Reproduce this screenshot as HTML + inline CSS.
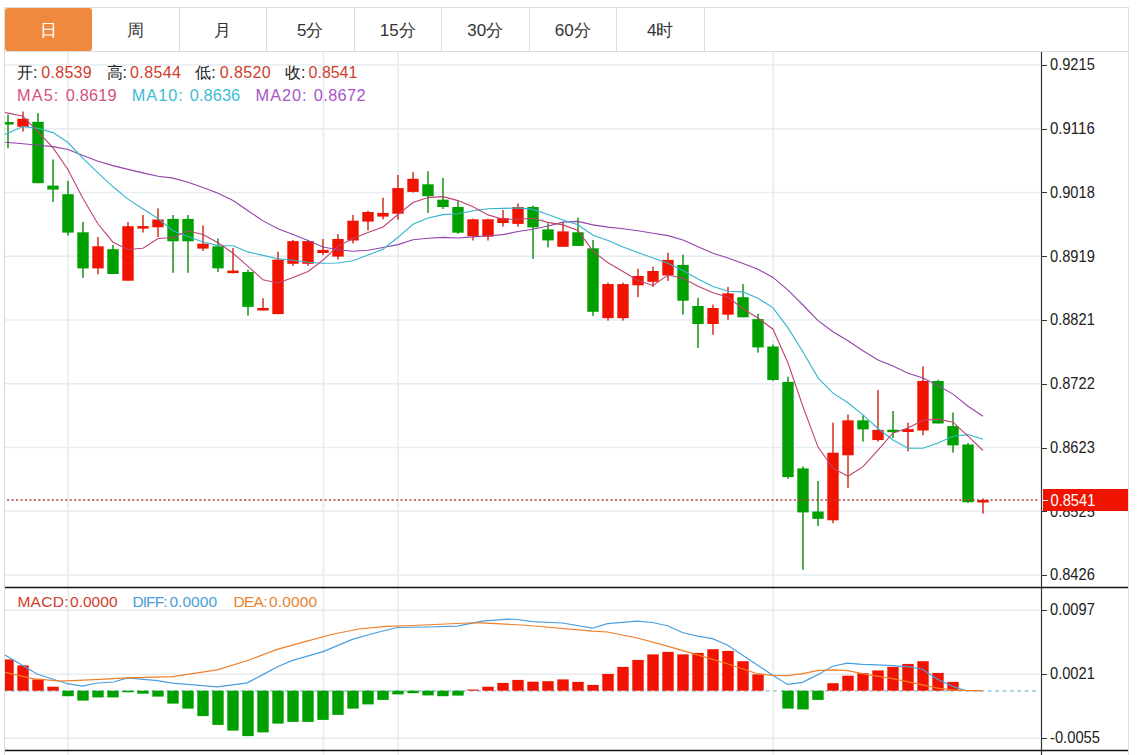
<!DOCTYPE html>
<html><head><meta charset="utf-8">
<style>
html,body{margin:0;padding:0;background:#fff;}
body{width:1141px;height:755px;position:relative;overflow:hidden;font-family:"Liberation Sans",sans-serif;}
.bar{position:absolute;left:4px;top:7px;width:1124px;height:43px;border:1px solid #dcdcdc;border-left:none;}
.tab{position:absolute;top:7px;width:87.5px;height:44px;line-height:48px;text-align:center;font-size:17px;color:#333;border-right:1px solid #dcdcdc;box-sizing:border-box;}
.tab.act{background:#f0893d;color:#fff;border-radius:3px;border-right:none;top:8px;height:43px;left:5px!important;width:87px;line-height:46px;}
svg{position:absolute;left:0;top:0;font-family:"Liberation Sans",sans-serif;}
.ax{font-size:15.6px;font-family:"Liberation Sans",sans-serif;}
.hd{position:absolute;font-size:16px;white-space:pre;line-height:16px;}
</style></head><body>
<div class="bar"></div>
<div style="position:absolute;left:4px;top:7px;width:1px;height:44px;background:#dcdcdc"></div>
<div class="tab act" style="left:4.5px">日</div><div class="tab" style="left:92.0px">周</div><div class="tab" style="left:179.5px">月</div><div class="tab" style="left:267.0px">5分</div><div class="tab" style="left:354.5px">15分</div><div class="tab" style="left:442.0px">30分</div><div class="tab" style="left:529.5px">60分</div><div class="tab" style="left:617.0px">4时</div>
<svg width="1141" height="755" viewBox="0 0 1141 755">
<defs><clipPath id="cl"><rect x="5" y="52" width="1036" height="535"/></clipPath>
<clipPath id="cl2"><rect x="5" y="588" width="1036" height="162"/></clipPath></defs>
<line x1="5" y1="65.00" x2="1040" y2="65.00" stroke="#e6ecf0" stroke-width="1.6"/>
<line x1="5" y1="128.75" x2="1040" y2="128.75" stroke="#e6ecf0" stroke-width="1.6"/>
<line x1="5" y1="192.50" x2="1040" y2="192.50" stroke="#e6ecf0" stroke-width="1.6"/>
<line x1="5" y1="256.25" x2="1040" y2="256.25" stroke="#e6ecf0" stroke-width="1.6"/>
<line x1="5" y1="320.00" x2="1040" y2="320.00" stroke="#e6ecf0" stroke-width="1.6"/>
<line x1="5" y1="383.75" x2="1040" y2="383.75" stroke="#e6ecf0" stroke-width="1.6"/>
<line x1="5" y1="447.50" x2="1040" y2="447.50" stroke="#e6ecf0" stroke-width="1.6"/>
<line x1="5" y1="511.25" x2="1040" y2="511.25" stroke="#e6ecf0" stroke-width="1.6"/>
<line x1="5" y1="575.00" x2="1040" y2="575.00" stroke="#e6ecf0" stroke-width="1.6"/>
<line x1="5" y1="610.3" x2="1040" y2="610.3" stroke="#e6ecf0" stroke-width="1.6"/>
<line x1="5" y1="674.3" x2="1040" y2="674.3" stroke="#e6ecf0" stroke-width="1.6"/>
<line x1="5" y1="738.3" x2="1040" y2="738.3" stroke="#e6ecf0" stroke-width="1.6"/>
<line x1="68.2" y1="52" x2="68.2" y2="755" stroke="#e6ecf0" stroke-width="1.6"/>
<line x1="323.4" y1="52" x2="323.4" y2="755" stroke="#e6ecf0" stroke-width="1.6"/>
<line x1="398.2" y1="52" x2="398.2" y2="755" stroke="#e6ecf0" stroke-width="1.6"/>
<line x1="773.3" y1="52" x2="773.3" y2="755" stroke="#e6ecf0" stroke-width="1.6"/>
<g clip-path="url(#cl)">
<rect x="7.30" y="114.6" width="1.4" height="33.7" fill="#078a07"/>
<rect x="2.30" y="122.0" width="11.4" height="2.5" fill="#00a000"/>
<rect x="22.30" y="111.5" width="1.4" height="20.0" fill="#c8240f"/>
<rect x="17.30" y="118.8" width="11.4" height="8.0" fill="#f01400"/>
<rect x="37.30" y="113.1" width="1.4" height="70.1" fill="#078a07"/>
<rect x="32.30" y="121.8" width="11.4" height="61.4" fill="#00a000"/>
<rect x="52.30" y="159.5" width="1.4" height="42.5" fill="#078a07"/>
<rect x="47.30" y="185.6" width="11.4" height="4.0" fill="#00a000"/>
<rect x="67.30" y="181.0" width="1.4" height="54.5" fill="#078a07"/>
<rect x="62.30" y="194.2" width="11.4" height="38.4" fill="#00a000"/>
<rect x="82.30" y="221.8" width="1.4" height="56.0" fill="#078a07"/>
<rect x="77.30" y="232.3" width="11.4" height="36.1" fill="#00a000"/>
<rect x="97.30" y="237.0" width="1.4" height="37.3" fill="#c8240f"/>
<rect x="92.30" y="246.3" width="11.4" height="22.1" fill="#f01400"/>
<rect x="112.30" y="245.0" width="1.4" height="29.0" fill="#078a07"/>
<rect x="107.30" y="249.2" width="11.4" height="24.8" fill="#00a000"/>
<rect x="127.30" y="221.8" width="1.4" height="58.9" fill="#c8240f"/>
<rect x="122.30" y="226.2" width="11.4" height="54.5" fill="#f01400"/>
<rect x="142.30" y="215.0" width="1.4" height="17.6" fill="#c8240f"/>
<rect x="137.30" y="226.1" width="11.4" height="2.5" fill="#f01400"/>
<rect x="157.30" y="208.4" width="1.4" height="28.6" fill="#c8240f"/>
<rect x="152.30" y="219.5" width="11.4" height="7.8" fill="#f01400"/>
<rect x="172.30" y="215.0" width="1.4" height="57.8" fill="#078a07"/>
<rect x="167.30" y="218.9" width="11.4" height="22.4" fill="#00a000"/>
<rect x="187.30" y="215.0" width="1.4" height="57.8" fill="#078a07"/>
<rect x="182.30" y="218.9" width="11.4" height="22.4" fill="#00a000"/>
<rect x="202.30" y="225.3" width="1.4" height="25.7" fill="#c8240f"/>
<rect x="197.30" y="243.7" width="11.4" height="4.9" fill="#f01400"/>
<rect x="217.30" y="238.4" width="1.4" height="33.6" fill="#078a07"/>
<rect x="212.30" y="246.3" width="11.4" height="22.1" fill="#00a000"/>
<rect x="232.30" y="248.0" width="1.4" height="25.4" fill="#c8240f"/>
<rect x="227.30" y="270.6" width="11.4" height="2.5" fill="#f01400"/>
<rect x="247.30" y="269.6" width="1.4" height="46.0" fill="#078a07"/>
<rect x="242.30" y="272.0" width="11.4" height="34.9" fill="#00a000"/>
<rect x="262.30" y="298.2" width="1.4" height="12.2" fill="#c8240f"/>
<rect x="257.30" y="308.0" width="11.4" height="2.5" fill="#f01400"/>
<rect x="277.30" y="251.6" width="1.4" height="62.5" fill="#c8240f"/>
<rect x="272.30" y="259.6" width="11.4" height="54.5" fill="#f01400"/>
<rect x="292.30" y="240.0" width="1.4" height="25.9" fill="#c8240f"/>
<rect x="287.30" y="241.1" width="11.4" height="22.7" fill="#f01400"/>
<rect x="307.30" y="240.0" width="1.4" height="25.9" fill="#c8240f"/>
<rect x="302.30" y="241.1" width="11.4" height="22.7" fill="#f01400"/>
<rect x="322.30" y="239.0" width="1.4" height="16.1" fill="#c8240f"/>
<rect x="317.30" y="249.9" width="11.4" height="3.1" fill="#f01400"/>
<rect x="337.30" y="234.1" width="1.4" height="25.4" fill="#c8240f"/>
<rect x="332.30" y="239.0" width="11.4" height="17.6" fill="#f01400"/>
<rect x="352.30" y="214.9" width="1.4" height="28.5" fill="#c8240f"/>
<rect x="347.30" y="220.7" width="11.4" height="19.8" fill="#f01400"/>
<rect x="367.30" y="210.8" width="1.4" height="19.5" fill="#c8240f"/>
<rect x="362.30" y="212.0" width="11.4" height="9.6" fill="#f01400"/>
<rect x="382.30" y="197.7" width="1.4" height="21.6" fill="#c8240f"/>
<rect x="377.30" y="212.9" width="11.4" height="3.7" fill="#f01400"/>
<rect x="397.30" y="175.0" width="1.4" height="44.6" fill="#c8240f"/>
<rect x="392.30" y="188.1" width="11.4" height="25.6" fill="#f01400"/>
<rect x="412.30" y="172.0" width="1.4" height="20.5" fill="#c8240f"/>
<rect x="407.30" y="178.8" width="11.4" height="13.1" fill="#f01400"/>
<rect x="427.30" y="171.2" width="1.4" height="41.7" fill="#078a07"/>
<rect x="422.30" y="184.3" width="11.4" height="11.9" fill="#00a000"/>
<rect x="442.30" y="177.9" width="1.4" height="31.1" fill="#078a07"/>
<rect x="437.30" y="199.7" width="11.4" height="7.3" fill="#00a000"/>
<rect x="457.30" y="201.2" width="1.4" height="32.6" fill="#078a07"/>
<rect x="452.30" y="207.0" width="11.4" height="25.7" fill="#00a000"/>
<rect x="472.30" y="218.7" width="1.4" height="21.8" fill="#c8240f"/>
<rect x="467.30" y="219.3" width="11.4" height="16.9" fill="#f01400"/>
<rect x="487.30" y="218.7" width="1.4" height="21.8" fill="#c8240f"/>
<rect x="482.30" y="219.3" width="11.4" height="17.4" fill="#f01400"/>
<rect x="502.30" y="210.0" width="1.4" height="16.5" fill="#c8240f"/>
<rect x="497.30" y="218.1" width="11.4" height="4.9" fill="#f01400"/>
<rect x="517.30" y="203.5" width="1.4" height="23.3" fill="#c8240f"/>
<rect x="512.30" y="207.0" width="11.4" height="16.9" fill="#f01400"/>
<rect x="532.30" y="205.6" width="1.4" height="53.3" fill="#078a07"/>
<rect x="527.30" y="207.0" width="11.4" height="20.4" fill="#00a000"/>
<rect x="547.30" y="223.3" width="1.4" height="24.0" fill="#078a07"/>
<rect x="542.30" y="229.4" width="11.4" height="11.0" fill="#00a000"/>
<rect x="562.30" y="222.0" width="1.4" height="24.8" fill="#c8240f"/>
<rect x="557.30" y="231.4" width="11.4" height="15.4" fill="#f01400"/>
<rect x="577.30" y="217.7" width="1.4" height="28.2" fill="#078a07"/>
<rect x="572.30" y="232.3" width="11.4" height="13.6" fill="#00a000"/>
<rect x="592.30" y="240.1" width="1.4" height="75.8" fill="#078a07"/>
<rect x="587.30" y="248.3" width="11.4" height="63.5" fill="#00a000"/>
<rect x="607.30" y="282.7" width="1.4" height="37.9" fill="#c8240f"/>
<rect x="602.30" y="284.1" width="11.4" height="34.1" fill="#f01400"/>
<rect x="622.30" y="282.7" width="1.4" height="37.9" fill="#c8240f"/>
<rect x="617.30" y="284.1" width="11.4" height="34.1" fill="#f01400"/>
<rect x="637.30" y="268.7" width="1.4" height="28.5" fill="#c8240f"/>
<rect x="632.30" y="276.0" width="11.4" height="9.3" fill="#f01400"/>
<rect x="652.30" y="266.6" width="1.4" height="20.4" fill="#c8240f"/>
<rect x="647.30" y="271.0" width="11.4" height="10.8" fill="#f01400"/>
<rect x="667.30" y="252.7" width="1.4" height="28.2" fill="#c8240f"/>
<rect x="662.30" y="259.9" width="11.4" height="15.5" fill="#f01400"/>
<rect x="682.30" y="254.7" width="1.4" height="60.0" fill="#078a07"/>
<rect x="677.30" y="264.9" width="11.4" height="35.8" fill="#00a000"/>
<rect x="697.30" y="297.8" width="1.4" height="50.1" fill="#078a07"/>
<rect x="692.30" y="306.0" width="11.4" height="18.0" fill="#00a000"/>
<rect x="712.30" y="304.5" width="1.4" height="30.3" fill="#c8240f"/>
<rect x="707.30" y="308.0" width="11.4" height="16.0" fill="#f01400"/>
<rect x="727.30" y="287.0" width="1.4" height="32.7" fill="#c8240f"/>
<rect x="722.30" y="293.4" width="11.4" height="21.3" fill="#f01400"/>
<rect x="742.30" y="284.1" width="1.4" height="33.2" fill="#078a07"/>
<rect x="737.30" y="297.2" width="11.4" height="20.1" fill="#00a000"/>
<rect x="757.30" y="313.8" width="1.4" height="38.8" fill="#078a07"/>
<rect x="752.30" y="319.1" width="11.4" height="28.3" fill="#00a000"/>
<rect x="772.30" y="344.5" width="1.4" height="36.4" fill="#078a07"/>
<rect x="767.30" y="346.5" width="11.4" height="33.5" fill="#00a000"/>
<rect x="787.30" y="376.6" width="1.4" height="102.3" fill="#078a07"/>
<rect x="782.30" y="381.9" width="11.4" height="95.2" fill="#00a000"/>
<rect x="802.30" y="466.4" width="1.4" height="103.4" fill="#078a07"/>
<rect x="797.30" y="468.4" width="11.4" height="44.0" fill="#00a000"/>
<rect x="817.30" y="481.0" width="1.4" height="45.1" fill="#078a07"/>
<rect x="812.30" y="511.5" width="11.4" height="7.3" fill="#00a000"/>
<rect x="832.30" y="422.7" width="1.4" height="100.5" fill="#c8240f"/>
<rect x="827.30" y="452.7" width="11.4" height="67.6" fill="#f01400"/>
<rect x="847.30" y="414.5" width="1.4" height="73.7" fill="#c8240f"/>
<rect x="842.30" y="420.3" width="11.4" height="35.0" fill="#f01400"/>
<rect x="862.30" y="415.4" width="1.4" height="26.2" fill="#078a07"/>
<rect x="857.30" y="420.3" width="11.4" height="9.1" fill="#00a000"/>
<rect x="877.30" y="390.0" width="1.4" height="51.6" fill="#c8240f"/>
<rect x="872.30" y="429.9" width="11.4" height="10.2" fill="#f01400"/>
<rect x="892.30" y="411.0" width="1.4" height="27.1" fill="#078a07"/>
<rect x="887.30" y="429.7" width="11.4" height="2.5" fill="#00a000"/>
<rect x="907.30" y="422.7" width="1.4" height="28.5" fill="#c8240f"/>
<rect x="902.30" y="429.1" width="11.4" height="2.9" fill="#f01400"/>
<rect x="922.30" y="366.4" width="1.4" height="68.8" fill="#c8240f"/>
<rect x="917.30" y="381.0" width="11.4" height="49.5" fill="#f01400"/>
<rect x="937.30" y="379.8" width="1.4" height="43.7" fill="#078a07"/>
<rect x="932.30" y="381.0" width="11.4" height="42.5" fill="#00a000"/>
<rect x="952.30" y="412.5" width="1.4" height="40.2" fill="#078a07"/>
<rect x="947.30" y="426.1" width="11.4" height="19.3" fill="#00a000"/>
<rect x="967.30" y="443.0" width="1.4" height="59.8" fill="#078a07"/>
<rect x="962.30" y="444.5" width="11.4" height="57.7" fill="#00a000"/>
<rect x="982.30" y="498.4" width="1.4" height="15.2" fill="#c8240f"/>
<rect x="977.30" y="500.0" width="11.4" height="2.5" fill="#f01400"/>
<polyline points="-7.0,141.3 8.0,142.5 23.0,143.7 38.0,145.2 53.0,146.6 68.0,149.5 83.0,155.4 98.0,161.2 113.0,165.6 128.0,169.4 143.0,172.9 158.0,176.3 173.0,178.1 188.0,182.2 203.0,187.4 218.0,193.3 233.0,200.5 248.0,210.7 263.0,220.9 278.0,228.8 293.0,234.6 308.0,240.4 323.0,247.0 338.0,249.8 353.0,251.3 368.0,250.3 383.0,247.5 398.0,244.6 413.0,239.8 428.0,238.3 443.0,237.4 458.0,238.0 473.0,236.9 488.0,235.8 503.0,234.6 518.0,231.5 533.0,229.3 548.0,226.0 563.0,222.1 578.0,221.4 593.0,224.9 608.0,227.1 623.0,228.8 638.0,230.7 653.0,233.2 668.0,235.6 683.0,240.0 698.0,246.8 713.0,253.2 728.0,258.1 743.0,263.6 758.0,269.3 773.0,277.4 788.0,290.2 803.0,305.0 818.0,320.6 833.0,331.8 848.0,340.8 863.0,350.7 878.0,359.9 893.0,365.9 908.0,373.2 923.0,378.0 938.0,385.4 953.0,394.1 968.0,406.2 983.0,416.2" fill="none" stroke="#9244ab" stroke-width="1.1"/>
<polyline points="-7.0,139.4 8.0,133.0 23.0,126.6 38.0,128.2 53.0,132.6 68.0,142.5 83.0,158.3 98.0,172.9 113.0,186.8 128.0,199.1 143.0,209.0 158.0,218.5 173.0,230.8 188.0,236.6 203.0,242.0 218.0,245.6 233.0,245.8 248.0,251.9 263.0,255.4 278.0,258.7 293.0,260.2 308.0,262.3 323.0,263.2 338.0,263.0 353.0,260.7 368.0,255.0 383.0,249.2 398.0,237.3 413.0,224.3 428.0,218.0 443.0,214.6 458.0,213.7 473.0,210.7 488.0,208.7 503.0,208.4 518.0,207.9 533.0,209.4 548.0,214.6 563.0,219.9 578.0,224.8 593.0,235.3 608.0,240.5 623.0,246.9 638.0,252.6 653.0,257.9 668.0,263.2 683.0,270.5 698.0,278.9 713.0,286.6 728.0,291.3 743.0,291.9 758.0,298.2 773.0,307.8 788.0,327.9 803.0,352.0 818.0,377.9 833.0,393.1 848.0,402.7 863.0,414.9 878.0,428.5 893.0,440.0 908.0,448.2 923.0,448.3 938.0,442.9 953.0,436.2 968.0,434.6 983.0,439.3" fill="none" stroke="#34b4d0" stroke-width="1.1"/>
<polyline points="-7.0,109.9 8.0,113.1 23.0,116.3 38.0,131.8 53.0,147.7 68.0,169.7 83.0,198.5 98.0,224.0 113.0,242.2 128.0,249.5 143.0,248.3 158.0,238.5 173.0,237.5 188.0,231.0 203.0,234.5 218.0,242.8 233.0,253.2 248.0,266.3 263.0,279.8 278.0,283.0 293.0,277.5 308.0,271.5 323.0,260.1 338.0,246.1 353.0,238.4 368.0,232.5 383.0,226.9 398.0,214.5 413.0,202.5 428.0,197.6 443.0,196.6 458.0,200.6 473.0,206.8 488.0,214.9 503.0,219.3 518.0,219.3 533.0,218.2 548.0,222.4 563.0,224.9 578.0,230.4 593.0,251.4 608.0,262.7 623.0,271.5 638.0,280.4 653.0,285.4 668.0,275.0 683.0,278.3 698.0,286.3 713.0,292.7 728.0,297.2 743.0,308.7 758.0,318.0 773.0,329.2 788.0,363.0 803.0,406.8 818.0,447.1 833.0,468.2 848.0,476.3 863.0,466.7 878.0,450.2 893.0,432.9 908.0,428.1 923.0,420.3 938.0,419.1 953.0,422.2 968.0,436.2 983.0,450.5" fill="none" stroke="#bf4372" stroke-width="1.1"/>
</g>
<g clip-path="url(#cl2)">
<line x1="3.5" y1="690.9" x2="1036" y2="690.9" stroke="#a6cde2" stroke-width="1.8" stroke-dasharray="3.9,3.5"/>
<rect x="2.30" y="659.4" width="11.4" height="31.3" fill="#f01400"/>
<rect x="17.30" y="665.4" width="11.4" height="25.3" fill="#f01400"/>
<rect x="32.30" y="679.4" width="11.4" height="11.3" fill="#f01400"/>
<rect x="47.30" y="686.7" width="11.4" height="4.0" fill="#f01400"/>
<rect x="62.30" y="690.7" width="11.4" height="5.5" fill="#00a000"/>
<rect x="77.30" y="690.7" width="11.4" height="9.9" fill="#00a000"/>
<rect x="92.30" y="690.7" width="11.4" height="6.7" fill="#00a000"/>
<rect x="107.30" y="690.7" width="11.4" height="6.7" fill="#00a000"/>
<rect x="122.30" y="690.7" width="11.4" height="1.6" fill="#00a000"/>
<rect x="137.30" y="690.7" width="11.4" height="3.0" fill="#00a000"/>
<rect x="152.30" y="690.7" width="11.4" height="5.9" fill="#00a000"/>
<rect x="167.30" y="690.7" width="11.4" height="12.9" fill="#00a000"/>
<rect x="182.30" y="690.7" width="11.4" height="17.9" fill="#00a000"/>
<rect x="197.30" y="690.7" width="11.4" height="25.4" fill="#00a000"/>
<rect x="212.30" y="690.7" width="11.4" height="34.2" fill="#00a000"/>
<rect x="227.30" y="690.7" width="11.4" height="39.9" fill="#00a000"/>
<rect x="242.30" y="690.7" width="11.4" height="45.4" fill="#00a000"/>
<rect x="257.30" y="690.7" width="11.4" height="41.7" fill="#00a000"/>
<rect x="272.30" y="690.7" width="11.4" height="32.9" fill="#00a000"/>
<rect x="287.30" y="690.7" width="11.4" height="31.2" fill="#00a000"/>
<rect x="302.30" y="690.7" width="11.4" height="31.2" fill="#00a000"/>
<rect x="317.30" y="690.7" width="11.4" height="29.2" fill="#00a000"/>
<rect x="332.30" y="690.7" width="11.4" height="24.2" fill="#00a000"/>
<rect x="347.30" y="690.7" width="11.4" height="17.9" fill="#00a000"/>
<rect x="362.30" y="690.7" width="11.4" height="13.7" fill="#00a000"/>
<rect x="377.30" y="690.7" width="11.4" height="9.2" fill="#00a000"/>
<rect x="392.30" y="690.7" width="11.4" height="3.7" fill="#00a000"/>
<rect x="407.30" y="690.7" width="11.4" height="2.5" fill="#00a000"/>
<rect x="422.30" y="690.7" width="11.4" height="4.7" fill="#00a000"/>
<rect x="437.30" y="690.7" width="11.4" height="5.5" fill="#00a000"/>
<rect x="452.30" y="690.7" width="11.4" height="4.9" fill="#00a000"/>
<rect x="467.30" y="689.5" width="11.4" height="1.2" fill="#f01400"/>
<rect x="482.30" y="686.7" width="11.4" height="4.0" fill="#f01400"/>
<rect x="497.30" y="682.9" width="11.4" height="7.8" fill="#f01400"/>
<rect x="512.30" y="679.9" width="11.4" height="10.8" fill="#f01400"/>
<rect x="527.30" y="681.7" width="11.4" height="9.0" fill="#f01400"/>
<rect x="542.30" y="681.2" width="11.4" height="9.5" fill="#f01400"/>
<rect x="557.30" y="679.4" width="11.4" height="11.3" fill="#f01400"/>
<rect x="572.30" y="681.9" width="11.4" height="8.8" fill="#f01400"/>
<rect x="587.30" y="684.9" width="11.4" height="5.8" fill="#f01400"/>
<rect x="602.30" y="673.9" width="11.4" height="16.8" fill="#f01400"/>
<rect x="617.30" y="666.9" width="11.4" height="23.8" fill="#f01400"/>
<rect x="632.30" y="659.9" width="11.4" height="30.8" fill="#f01400"/>
<rect x="647.30" y="654.4" width="11.4" height="36.3" fill="#f01400"/>
<rect x="662.30" y="651.9" width="11.4" height="38.8" fill="#f01400"/>
<rect x="677.30" y="654.4" width="11.4" height="36.3" fill="#f01400"/>
<rect x="692.30" y="652.9" width="11.4" height="37.8" fill="#f01400"/>
<rect x="707.30" y="649.2" width="11.4" height="41.5" fill="#f01400"/>
<rect x="722.30" y="650.9" width="11.4" height="39.8" fill="#f01400"/>
<rect x="737.30" y="661.2" width="11.4" height="29.5" fill="#f01400"/>
<rect x="752.30" y="674.4" width="11.4" height="16.3" fill="#f01400"/>
<rect x="782.30" y="690.7" width="11.4" height="17.9" fill="#00a000"/>
<rect x="797.30" y="690.7" width="11.4" height="18.7" fill="#00a000"/>
<rect x="812.30" y="690.7" width="11.4" height="9.2" fill="#00a000"/>
<rect x="827.30" y="683.2" width="11.4" height="7.5" fill="#f01400"/>
<rect x="842.30" y="675.7" width="11.4" height="15.0" fill="#f01400"/>
<rect x="857.30" y="673.2" width="11.4" height="17.5" fill="#f01400"/>
<rect x="872.30" y="670.4" width="11.4" height="20.3" fill="#f01400"/>
<rect x="887.30" y="666.9" width="11.4" height="23.8" fill="#f01400"/>
<rect x="902.30" y="663.9" width="11.4" height="26.8" fill="#f01400"/>
<rect x="917.30" y="661.2" width="11.4" height="29.5" fill="#f01400"/>
<rect x="932.30" y="672.9" width="11.4" height="17.8" fill="#f01400"/>
<rect x="947.30" y="681.9" width="11.4" height="8.8" fill="#f01400"/>
<polyline points="5.0,655.0 37.5,674.2 67.4,683.7 82.4,686.2 97.4,683.0 113.6,682.0 127.4,677.9 157.4,680.7 172.4,683.2 217.3,686.9 247.3,682.9 262.3,674.9 278.7,666.2 292.5,660.4 322.5,651.9 352.4,639.4 374.9,633.0 397.4,627.5 427.4,627.0 457.3,626.2 482.3,621.2 507.3,619.2 517.3,619.5 532.3,621.7 562.5,623.0 592.5,628.2 607.4,623.7 637.4,621.2 652.4,622.5 667.4,625.7 682.4,632.5 697.4,636.2 712.4,638.7 727.3,645.0 742.3,655.0 757.3,664.9 773.5,675.7 787.5,684.4 802.5,682.4 817.5,674.9 832.5,666.2 847.4,663.2 862.4,664.4 877.4,664.9 892.4,665.7 907.4,666.7 922.4,669.2 937.4,679.2 952.4,686.2 964.8,690.4 982.3,690.7" fill="none" stroke="#4a9fe0" stroke-width="1.2"/>
<polyline points="5.0,672.4 32.5,678.7 60.0,681.2 100.0,679.4 127.4,677.9 172.4,676.7 217.3,669.9 250.0,659.7 277.2,649.4 304.3,641.8 331.5,634.5 358.7,629.0 385.9,626.3 413.0,625.5 467.4,623.0 481.0,622.8 521.7,625.0 540.0,626.5 592.5,631.2 607.4,632.0 637.4,638.0 667.4,646.2 697.4,654.9 727.3,663.7 742.3,668.7 757.3,673.7 773.5,675.4 787.5,675.7 802.5,673.7 817.5,670.7 832.5,669.9 847.4,670.7 862.4,673.7 877.4,676.2 892.4,678.7 907.4,681.7 922.4,684.9 937.4,688.2 952.4,689.9 967.3,690.7 982.3,690.7" fill="none" stroke="#f07f28" stroke-width="1.2"/>
</g>
<line x1="7.1" y1="500" x2="1038" y2="500" stroke="#b0403a" stroke-width="1.6" stroke-dasharray="2.1,2.37"/>
<line x1="4.5" y1="51" x2="4.5" y2="755" stroke="#dcdcdc" stroke-width="1"/>
<line x1="1128.5" y1="7" x2="1128.5" y2="755" stroke="#dcdcdc" stroke-width="1"/>
<line x1="1041.5" y1="52" x2="1041.5" y2="755" stroke="#333" stroke-width="1.2"/>
<line x1="5" y1="587.5" x2="1128" y2="587.5" stroke="#111" stroke-width="1.5"/>
<line x1="5" y1="750.5" x2="1128" y2="750.5" stroke="#111" stroke-width="1.5"/>
<line x1="1041" y1="65.5" x2="1047" y2="65.5" stroke="#333" stroke-width="1"/>
<text x="1050" y="70.4" class="ax" fill="#222" textLength="44.8" lengthAdjust="spacingAndGlyphs">0.9215</text>
<line x1="1041" y1="129.5" x2="1047" y2="129.5" stroke="#333" stroke-width="1"/>
<text x="1050" y="134.2" class="ax" fill="#222" textLength="44.8" lengthAdjust="spacingAndGlyphs">0.9116</text>
<line x1="1041" y1="192.5" x2="1047" y2="192.5" stroke="#333" stroke-width="1"/>
<text x="1050" y="197.9" class="ax" fill="#222" textLength="44.8" lengthAdjust="spacingAndGlyphs">0.9018</text>
<line x1="1041" y1="256.5" x2="1047" y2="256.5" stroke="#333" stroke-width="1"/>
<text x="1050" y="261.6" class="ax" fill="#222" textLength="44.8" lengthAdjust="spacingAndGlyphs">0.8919</text>
<line x1="1041" y1="320.5" x2="1047" y2="320.5" stroke="#333" stroke-width="1"/>
<text x="1050" y="325.4" class="ax" fill="#222" textLength="44.8" lengthAdjust="spacingAndGlyphs">0.8821</text>
<line x1="1041" y1="384.5" x2="1047" y2="384.5" stroke="#333" stroke-width="1"/>
<text x="1050" y="389.1" class="ax" fill="#222" textLength="44.8" lengthAdjust="spacingAndGlyphs">0.8722</text>
<line x1="1041" y1="448.5" x2="1047" y2="448.5" stroke="#333" stroke-width="1"/>
<text x="1050" y="452.9" class="ax" fill="#222" textLength="44.8" lengthAdjust="spacingAndGlyphs">0.8623</text>
<line x1="1041" y1="511.5" x2="1047" y2="511.5" stroke="#333" stroke-width="1"/>
<text x="1050" y="516.6" class="ax" fill="#222" textLength="44.8" lengthAdjust="spacingAndGlyphs">0.8525</text>
<line x1="1041" y1="575.5" x2="1047" y2="575.5" stroke="#333" stroke-width="1"/>
<text x="1050" y="580.4" class="ax" fill="#222" textLength="44.8" lengthAdjust="spacingAndGlyphs">0.8426</text>
<line x1="1041" y1="610.5" x2="1047" y2="610.5" stroke="#333" stroke-width="1"/>
<text x="1050" y="615.4" class="ax" fill="#222" textLength="44.8" lengthAdjust="spacingAndGlyphs">0.0097</text>
<line x1="1041" y1="674.5" x2="1047" y2="674.5" stroke="#333" stroke-width="1"/>
<text x="1050" y="679.4" class="ax" fill="#222" textLength="44.8" lengthAdjust="spacingAndGlyphs">0.0021</text>
<line x1="1041" y1="738.5" x2="1047" y2="738.5" stroke="#333" stroke-width="1"/>
<text x="1050" y="743.4" class="ax" fill="#222" textLength="50.0" lengthAdjust="spacingAndGlyphs">-0.0055</text>
<rect x="1043" y="489" width="85" height="22" fill="#f01400"/>
<line x1="1042" y1="500.5" x2="1048" y2="500.5" stroke="#fff" stroke-width="1"/>
<text x="1050.5" y="505.8" class="ax" fill="#fff" textLength="44.8" lengthAdjust="spacingAndGlyphs">0.8541</text>
<text x="17.0" y="78.0" fill="#222" font-size="16.0" textLength="20.5" lengthAdjust="spacing">开:</text>
<text x="41.2" y="78.0" fill="#cf3d2c" font-size="16.0" textLength="50.5" lengthAdjust="spacing">0.8539</text>
<text x="106.5" y="78.0" fill="#222" font-size="16.0" textLength="20.5" lengthAdjust="spacing">高:</text>
<text x="130.0" y="78.0" fill="#cf3d2c" font-size="16.0" textLength="51.0" lengthAdjust="spacing">0.8544</text>
<text x="195.2" y="78.0" fill="#222" font-size="16.0" textLength="20.5" lengthAdjust="spacing">低:</text>
<text x="219.8" y="78.0" fill="#cf3d2c" font-size="16.0" textLength="50.9" lengthAdjust="spacing">0.8520</text>
<text x="285.0" y="78.0" fill="#222" font-size="16.0" textLength="20.5" lengthAdjust="spacing">收:</text>
<text x="308.6" y="78.0" fill="#cf3d2c" font-size="16.0" textLength="48.8" lengthAdjust="spacing">0.8541</text>
<text x="17.1" y="100.8" fill="#d6517f" font-size="16.3" textLength="41.2" lengthAdjust="spacing">MA5:</text>
<text x="65.8" y="100.8" fill="#d6517f" font-size="16.3" textLength="50.8" lengthAdjust="spacing">0.8619</text>
<text x="131.7" y="100.8" fill="#3dbcd3" font-size="16.3" textLength="51.1" lengthAdjust="spacing">MA10:</text>
<text x="189.8" y="100.8" fill="#3dbcd3" font-size="16.3" textLength="50.3" lengthAdjust="spacing">0.8636</text>
<text x="255.6" y="100.8" fill="#a855c8" font-size="16.3" textLength="51.0" lengthAdjust="spacing">MA20:</text>
<text x="313.8" y="100.8" fill="#a855c8" font-size="16.3" textLength="51.7" lengthAdjust="spacing">0.8672</text>
<text x="17.4" y="607.3" fill="#cf3d2c" font-size="15.5" textLength="51.1" lengthAdjust="spacing">MACD:</text>
<text x="70.0" y="607.3" fill="#cf3d2c" font-size="15.5" textLength="47.5" lengthAdjust="spacing">0.0000</text>
<text x="132.4" y="607.3" fill="#4a9edb" font-size="15.5" textLength="35.1" lengthAdjust="spacing">DIFF:</text>
<text x="169.4" y="607.3" fill="#4a9edb" font-size="15.5" textLength="47.6" lengthAdjust="spacing">0.0000</text>
<text x="233.4" y="607.3" fill="#e8822e" font-size="15.5" textLength="34.2" lengthAdjust="spacing">DEA:</text>
<text x="269.0" y="607.3" fill="#e8822e" font-size="15.5" textLength="48.0" lengthAdjust="spacing">0.0000</text>
</svg>
</body></html>
